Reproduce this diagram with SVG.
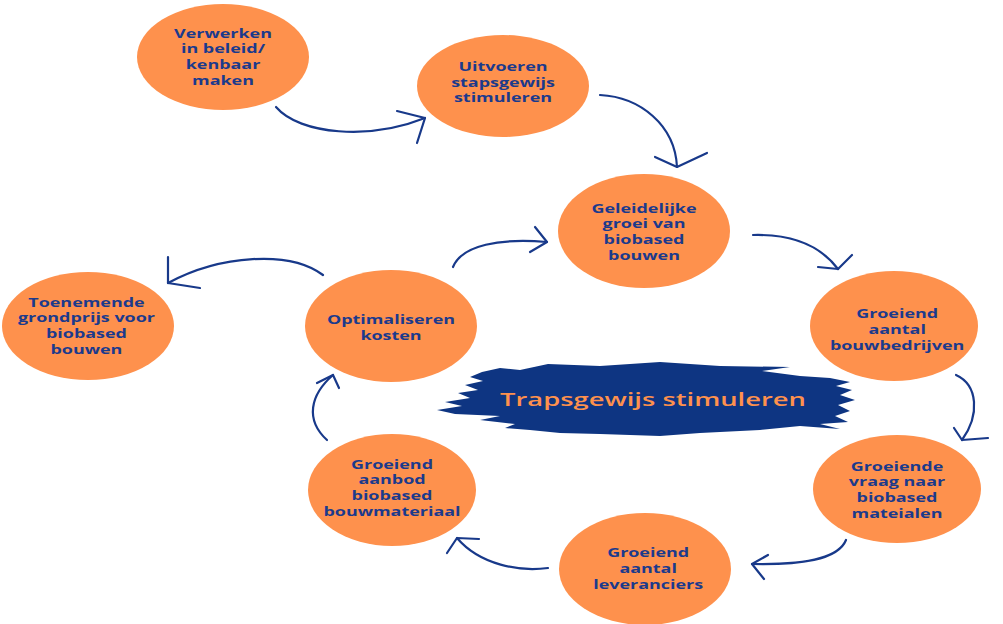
<svg xmlns="http://www.w3.org/2000/svg" width="1003" height="624" viewBox="0 0 1003 624">
<style>
.node ellipse{fill:#FE914D;}
.lbl{font-family:"Open Sans","Liberation Sans",sans-serif;font-weight:700;font-size:11.5px;fill:#1B3A8C;text-anchor:middle;}
.conn path{fill:none;stroke:#18398A;stroke-width:2.2;stroke-linecap:round;stroke-linejoin:round;}
.title{font-family:"Open Sans","Liberation Sans",sans-serif;font-weight:600;font-size:18px;fill:#FE914D;text-anchor:middle;}
</style>
<rect width="1003" height="624" fill="#ffffff"/>

<g id="banner">
<path fill="#0E3582" d="M482 372 L500 368 L520 370 L548 364 L600 366 L660 362 L720 366 L790 367 L762 371 L800 376 L830 378 L850 382 L836 386 L852 390 L840 395 L855 400 L838 405 L850 411 L835 416 L848 422 L820 424 L840 429 L800 426 L760 430 L700 433 L660 436 L600 434 L560 433 L530 430 L505 428 L515 424 L480 420 L500 416 L455 414 L437 410 L462 406 L445 402 L470 398 L458 393 L478 390 L465 385 L483 381 L470 377 Z"/>
<text class="title" transform="translate(653,405.5) scale(1.52,1)" x="0" y="0">Trapsgewijs stimuleren</text>
</g>

<g class="conn" id="connectors">
<path d="M276 107 C300 135 370 140 425 118"/>
<path d="M397 111 L425 118 L417 143"/>
<path d="M600 95 C640 97 675 125 677 167"/>
<path d="M655 157 L677 167 L707 153"/>
<path d="M453 267 C462 245 500 238 547 242"/>
<path d="M535 227 L547 242 L530 252"/>
<path d="M753 235 C790 234 820 245 838 269"/>
<path d="M852 255 L838 269 L818 267"/>
<path d="M956 375 C978 385 980 415 962 440"/>
<path d="M954 428 L962 440 L988 438"/>
<path d="M846 540 C838 560 800 565 752 564"/>
<path d="M768 555 L752 564 L764 579"/>
<path d="M548 568 C520 572 480 565 457 538"/>
<path d="M479 539 L457 538 L447 553"/>
<path d="M327 440 C305 420 310 395 333 375"/>
<path d="M317 383 L333 375 L339 388"/>
<path d="M323 275 C290 250 220 255 168 283"/>
<path d="M168 257 L168 283 L200 288"/>
</g>

<g id="n1" class="node" transform="translate(223,57)">
<ellipse rx="86" ry="53"/>
<text class="lbl" transform="scale(1.56,1)"><tspan x="0" y="-19.3">Verwerken</tspan><tspan x="0" y="-3.6">in beleid/</tspan><tspan x="0" y="12.1">kenbaar</tspan><tspan x="0" y="27.8">maken</tspan></text>
</g>

<g id="n2" class="node" transform="translate(503,86)">
<ellipse rx="86" ry="51"/>
<text class="lbl" transform="scale(1.56,1)"><tspan x="0" y="-15.2">Uitvoeren</tspan><tspan x="0" y="0.5">stapsgewijs</tspan><tspan x="0" y="16.2">stimuleren</tspan></text>
</g>

<g id="n3" class="node" transform="translate(644,231)">
<ellipse rx="86" ry="57"/>
<text class="lbl" transform="scale(1.56,1)"><tspan x="0" y="-18.3">Geleidelijke</tspan><tspan x="0" y="-2.6">groei van</tspan><tspan x="0" y="13.1">biobased</tspan><tspan x="0" y="28.8">bouwen</tspan></text>
</g>

<g id="n4" class="node" transform="translate(894,326)">
<ellipse rx="84" ry="55"/>
<text class="lbl" transform="scale(1.56,1)"><tspan x="2" y="-7.7">Groeiend</tspan><tspan x="2" y="8">aantal</tspan><tspan x="2" y="23.7">bouwbedrijven</tspan></text>
</g>

<g id="n5" class="node" transform="translate(897,489)">
<ellipse rx="84" ry="54"/>
<text class="lbl" transform="scale(1.56,1)"><tspan x="0" y="-18.3">Groeiende</tspan><tspan x="0" y="-2.6">vraag naar</tspan><tspan x="0" y="13.1">biobased</tspan><tspan x="0" y="28.8">mateialen</tspan></text>
</g>

<g id="n6" class="node" transform="translate(645,569)">
<ellipse rx="86" ry="56"/>
<text class="lbl" transform="scale(1.56,1)"><tspan x="2" y="-11.7">Groeiend</tspan><tspan x="2" y="4">aantal</tspan><tspan x="2" y="19.7">leveranciers</tspan></text>
</g>

<g id="n7" class="node" transform="translate(392,490)">
<ellipse rx="84" ry="56"/>
<text class="lbl" transform="scale(1.56,1)"><tspan x="0" y="-21.3">Groeiend</tspan><tspan x="0" y="-5.6">aanbod</tspan><tspan x="0" y="10.1">biobased</tspan><tspan x="0" y="25.8">bouwmateriaal</tspan></text>
</g>

<g id="n8" class="node" transform="translate(391,326)">
<ellipse rx="86" ry="56"/>
<text class="lbl" transform="scale(1.56,1)"><tspan x="0" y="-1.85">Optimaliseren</tspan><tspan x="0" y="13.85">kosten</tspan></text>
</g>

<g id="n9" class="node" transform="translate(88,326)">
<ellipse rx="86" ry="54"/>
<text class="lbl" transform="scale(1.56,1)"><tspan x="-1" y="-19.3">Toenemende</tspan><tspan x="-1" y="-3.6">grondprijs voor</tspan><tspan x="-1" y="12.1">biobased</tspan><tspan x="-1" y="27.8">bouwen</tspan></text>
</g>
</svg>
